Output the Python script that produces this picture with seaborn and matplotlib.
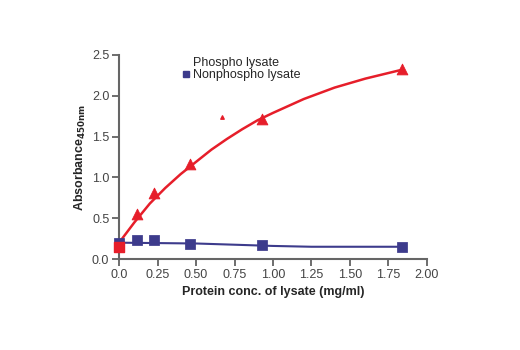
import seaborn as sns
import numpy as np
import matplotlib.pyplot as plt
from matplotlib.lines import Line2D

# values
phospho_x = [0.117, 0.23, 0.46, 0.93, 1.84]
phospho_y = [0.55, 0.81, 1.16, 1.72, 2.33]
phospho_zero = [0.0, 0.15]
stray_pt = [0.67, 1.74]

nonphospho_x = [0.0, 0.117, 0.23, 0.46, 0.93, 1.84]
nonphospho_y = [0.19, 0.23, 0.23, 0.18, 0.17, 0.15]

# fitted curves as traced in the picture
fit_red_x = [0.0, 0.1, 0.2, 0.3, 0.4, 0.5, 0.6, 0.7, 0.8, 0.9, 1.0, 1.2, 1.4, 1.6, 1.84]
fit_red_y = [0.2, 0.45, 0.68, 0.87, 1.04, 1.19, 1.34, 1.47, 1.59, 1.70, 1.79, 1.96, 2.10, 2.21, 2.32]
fit_blue_x = [0.0, 0.5, 1.0, 1.25, 1.84]
fit_blue_y = [0.20, 0.19, 0.16, 0.15, 0.15]

x_ticks = [0.0, 0.25, 0.5, 0.75, 1.0, 1.25, 1.5, 1.75, 2.0]
x_labels = ['0.0', '0.25', '0.50', '0.75', '1.00', '1.25', '1.50', '1.75', '2.00']
y_ticks = [0.0, 0.5, 1.0, 1.5, 2.0, 2.5]

red = '#e61e2a'
blue = '#3d3b8c'

sns.set_style('ticks')
plt.rcParams['font.family'] = ['Liberation Sans Narrow', 'Liberation Sans', 'DejaVu Sans']

fig = plt.figure(figsize=(5.2, 3.5), dpi=100)
ax = fig.add_axes([0.229, 0.26, 0.592, 0.583])

sns.lineplot(x=fit_red_x, y=fit_red_y, color=red, linewidth=1.8, ax=ax)
sns.lineplot(x=fit_blue_x, y=fit_blue_y, color=blue, linewidth=1.5, ax=ax)
sns.scatterplot(x=nonphospho_x, y=nonphospho_y, marker='s', s=45, color=blue,
                edgecolor=blue, ax=ax, clip_on=False, zorder=3)
sns.scatterplot(x=phospho_x, y=phospho_y, marker='^', s=60, color=red,
                edgecolor=red, ax=ax, clip_on=False, zorder=4)
ax.scatter([phospho_zero[0]], [phospho_zero[1]], marker='s', s=45, color=red,
           clip_on=False, zorder=5)
ax.scatter([stray_pt[0]], [stray_pt[1]], marker='^', s=6, color=red, zorder=4)

ax.set_xlim(0, 2.0)
ax.set_ylim(0, 2.5)
ax.set_xticks(x_ticks)
ax.set_xticklabels(x_labels)
ax.set_yticks(y_ticks)
ax.tick_params(labelsize=9, colors='#555555', labelcolor='#444444', length=5, width=1.2, pad=2)
for s in ['left', 'bottom']:
    ax.spines[s].set_color('#666666')
    ax.spines[s].set_linewidth(1.5)
sns.despine(ax=ax)

ax.set_xlabel('Protein conc. of lysate (mg/ml)', fontsize=9, fontweight='bold', labelpad=4)
ax.set_ylabel(r'Absorbance$_{\mathbf{450nm}}$', fontsize=9, fontweight='bold', labelpad=3)

handles = [Line2D([], [], linestyle='none'),
           Line2D([], [], linestyle='none', marker='s', markersize=4.5, color=blue)]
ax.legend(handles, ['Phospho lysate', 'Nonphospho lysate'], loc='upper left',
          bbox_to_anchor=(0.18, 1.035), frameon=False, fontsize=9,
          handlelength=0.5, handletextpad=0.25, labelspacing=0.05, borderpad=0.2)

fig.savefig('out.png', dpi=100)
